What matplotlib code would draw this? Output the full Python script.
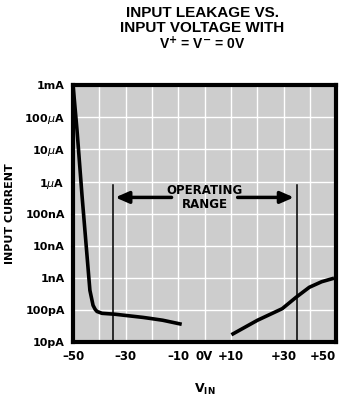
import matplotlib
matplotlib.use("Agg")
import matplotlib.pyplot as plt
import numpy as np

plt.rcParams['font.family'] = ['DejaVu Sans Condensed', 'Liberation Sans Narrow', 'DejaVu Sans']

# curve: input voltage (V) vs leakage current (A)
neg_v = [-50, -48.5, -46.6, -43.6, -42.4, -41.6, -40.9, -39.0, -34.1, -23.5, -20.8, -15.9, -8.7]
neg_i = [1e-3, 4e-5, 3.7e-7, 4.1e-10, 1.4e-10, 1.05e-10, 9e-11, 7.9e-11, 7.4e-11, 5.9e-11, 5.5e-11, 4.8e-11, 3.6e-11]
pos_v = [10.2, 20.1, 29.5, 34.8, 39.8, 44.5, 49.2]
pos_i = [1.7e-11, 4.8e-11, 1.1e-10, 2.5e-10, 5.1e-10, 7.6e-10, 9.8e-10]

x_ticks = [-50, -30, -10, 0, 10, 30, 50]
x_labels = ['\u201350', '\u201330', '\u201310', '0V', '+10', '+30', '+50']
y_ticks = [1e-11, 1e-10, 1e-9, 1e-8, 1e-7, 1e-6, 1e-5, 1e-4, 1e-3]
y_labels = ['10pA', '100pA', '1nA', '10nA', '100nA', '1$\\mu$A', '10$\\mu$A', '100$\\mu$A', '1mA']
op_range = [-35, 35]

fig = plt.figure(figsize=(3.43, 3.96), dpi=100)
ax = fig.add_axes([0.213, 0.136, 0.767, 0.649])
ax.set_facecolor('#cdcdcd')
ax.set_yscale('log')
ax.set_xlim(-50, 50)
ax.set_ylim(1e-11, 1e-3)

# white chart-paper grid
for gx in range(-40, 50, 10):
    ax.axvline(gx, color='white', lw=1.0, zorder=1)
for gy in y_ticks[1:-1]:
    ax.axhline(gy, color='white', lw=1.0, zorder=1)

ax.plot(neg_v, neg_i, color='black', lw=2.6, solid_capstyle='butt', zorder=3)
ax.plot(pos_v, pos_i, color='black', lw=2.6, solid_capstyle='butt', zorder=3)

# operating range markers
for v in op_range:
    ax.plot([v, v], [1e-11, 8e-7], color='black', lw=1.1, zorder=2)
ax.annotate('', xy=(op_range[0], 3.2e-7), xytext=(-11.5, 3.2e-7),
            arrowprops=dict(arrowstyle='-|>,head_length=0.8,head_width=0.35', color='black', lw=2.5))
ax.annotate('', xy=(op_range[1], 3.2e-7), xytext=(11.5, 3.2e-7),
            arrowprops=dict(arrowstyle='-|>,head_length=0.8,head_width=0.35', color='black', lw=2.5))
ax.text(0, 3.2e-7, 'OPERATING\nRANGE', ha='center', va='center', fontsize=8.5,
        fontweight='bold', linespacing=1.15)

ax.set_xticks(x_ticks)
ax.set_xticklabels(x_labels, fontsize=8.5, fontweight='bold')
ax.set_yticks(y_ticks)
ax.set_yticklabels(y_labels, fontsize=8, fontweight='bold')
ax.minorticks_off()
ax.tick_params(length=0, pad=6)
ax.get_xticklabels()[-1].set_horizontalalignment('right')
ax.get_xticklabels()[-1].set_x(50)

for s in ax.spines.values():
    s.set_linewidth(3)

ax.set_ylabel('INPUT CURRENT', fontsize=8, fontweight='bold')
ax.yaxis.set_label_coords(-0.22, 0.5)
ax.set_xlabel('V$_{\\mathbf{IN}}$', fontsize=9, fontweight='bold')
ax.xaxis.set_label_coords(0.5, -0.155)

title_font = ['Liberation Sans', 'DejaVu Sans']
fig.text(0.59, 0.967, 'INPUT LEAKAGE VS.', ha='center', va='center',
         fontsize=11, fontweight='bold', family=title_font)
fig.text(0.59, 0.929, 'INPUT VOLTAGE WITH', ha='center', va='center',
         fontsize=11, fontweight='bold', family=title_font)
fig.text(0.59, 0.889, 'V$^{\\mathbf{+}}$ = V$^{\\mathbf{-}}$ = 0V', ha='center', va='center',
         fontsize=10, fontweight='bold', family=title_font)

fig.savefig('out.png', dpi=100)
